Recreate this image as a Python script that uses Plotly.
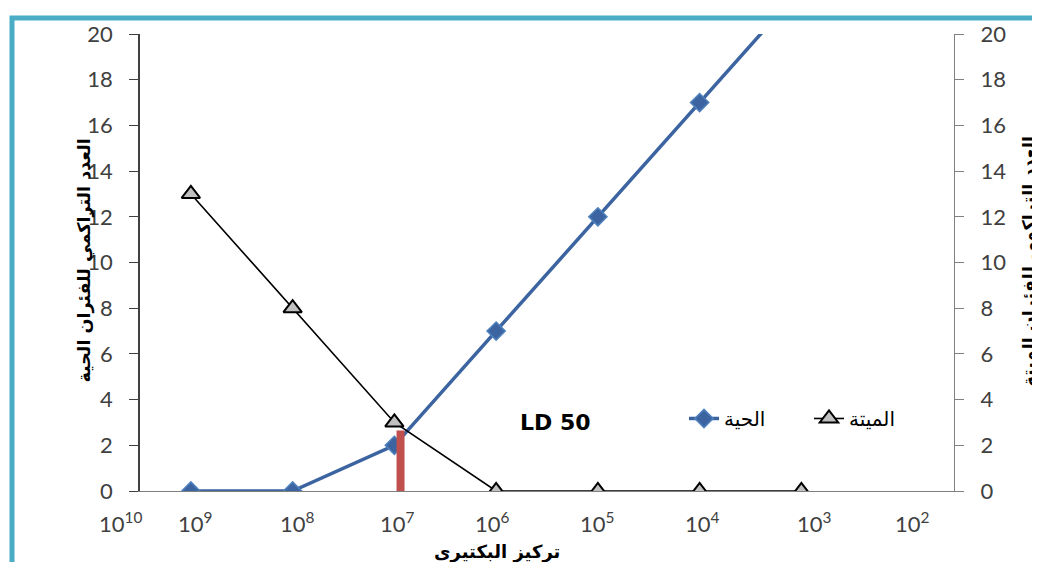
import plotly.graph_objects as go

# Data
concentrations = [1e9, 1e8, 1e7, 1e6, 1e5, 1e4, 1e3]
alive = [0, 0, 2, 7, 12, 17, 22]
dead = [13, 8, 3, 0, 0, 0, 0]
ld50_x = [8.7e6, 8.7e6]
ld50_y = [0, 2.65]
xtick_text = ["10<sup>10</sup>", "10<sup>9</sup>", "10<sup>8</sup>", "10<sup>7</sup>",
              "10<sup>6</sup>", "10<sup>5</sup>", "10<sup>4</sup>", "10<sup>3</sup>", "10<sup>2</sup>"]
xtick_pos = [9.69, 8.96, 7.95, 6.97, 6.04, 5.01, 3.97, 2.87, 1.91]  # log10 units

name_alive = "الحية"
name_dead = "الميتة"
title_left = "العدد التراكمي للفئران الحية"
title_right = "العدد التراكمي للفئران الميتة"
title_x = "تركيز البكتيرى"

AR_FONT = "DejaVu Sans"
NUM_FONT = "Lato, Open Sans, sans-serif"

X_MIN, X_MAX = 9.5, 1.5  # log10 range (reversed)

fig = go.Figure()
fig.add_trace(go.Scatter(
    x=concentrations, y=alive, name=name_alive, mode="lines+markers",
    line=dict(color="#3B64A0", width=3.5),
    marker=dict(symbol="diamond", size=14, color="#3B64A0", line=dict(color="#4F81BD", width=1.5)),
))
fig.add_trace(go.Scatter(
    x=concentrations, y=dead, name=name_dead, mode="lines+markers", yaxis="y2",
    line=dict(color="#000000", width=1.6),
    marker=dict(symbol="triangle-up", size=16, color="#C0C0C0", line=dict(color="#000000", width=2)),
))
fig.add_trace(go.Scatter(
    x=ld50_x, y=ld50_y, mode="lines", showlegend=False, hoverinfo="skip",
    line=dict(color="#C0504D", width=8),
))

# page offset (browser body margin)
OFF = 8
W, H = 1040, 562
# desired screen positions of plot area
SL, SR, ST, SB = 140, 954, 31, 491
L, T = SL - OFF, ST - OFF
R = W - (SR - OFF)
B = H - (SB - OFF)
pw, ph = SR - SL, SB - ST

def sx(px):
    return (px - SL) / pw

def sy(py):
    return (SB - py) / ph

annotations = []
for t, p in zip(xtick_text, xtick_pos):
    annotations.append(dict(x=(X_MIN - p) / (X_MIN - X_MAX), y=sy(523), xref="paper", yref="paper",
                            text=t, showarrow=False, xanchor="center", yanchor="middle",
                            font=dict(family=NUM_FONT, size=22, color="#404040")))
annotations += [
    dict(x=sx(85), y=sy(259), xref="paper", yref="paper", text="<b>" + title_left + "</b>",
         textangle=-90, showarrow=False, xanchor="center", yanchor="middle",
         font=dict(family=AR_FONT, size=17.5, color="#000")),
    dict(x=sx(1030), y=sy(260), xref="paper", yref="paper", text="<b>" + title_right + "</b>",
         textangle=-90, showarrow=False, xanchor="center", yanchor="middle",
         font=dict(family=AR_FONT, size=17.5, color="#000")),
    dict(x=sx(497), y=sy(552), xref="paper", yref="paper", text="<b>" + title_x + "</b>",
         showarrow=False, xanchor="center", yanchor="middle",
         font=dict(family=AR_FONT, size=18, color="#000")),
    dict(x=sx(555), y=sy(422), xref="paper", yref="paper", text="<b>LD 50</b>",
         showarrow=False, xanchor="center", yanchor="middle",
         font=dict(family="DejaVu Sans", size=22, color="#000")),
]

fig.update_layout(
    width=W, height=H,
    margin=dict(l=L, r=R, t=T, b=B),
    paper_bgcolor="white", plot_bgcolor="white",
    showlegend=True,
    legend=dict(orientation="h", x=sx(684), y=sy(418), xanchor="left", yanchor="middle",
                font=dict(family=AR_FONT, size=20, color="#000"),
                bgcolor="rgba(0,0,0,0)", entrywidth=80, traceorder="normal"),
    xaxis=dict(type="log", range=[X_MIN, X_MAX], showgrid=False, zeroline=False,
               showline=True, linecolor="#808080", linewidth=1, ticks="", showticklabels=False),
    yaxis=dict(range=[0, 20], dtick=2, showgrid=False, zeroline=False, showline=True,
               linecolor="#404040", linewidth=1.5, ticks="outside", ticklen=9, tickcolor="#404040",
               ticklabelstandoff=12,
               tickfont=dict(family=NUM_FONT, size=22, color="#404040")),
    yaxis2=dict(range=[0, 20], dtick=2, overlaying="y", side="right", showgrid=False, zeroline=False,
                showline=True, linecolor="#808080", linewidth=1.2, ticks="outside", ticklen=9,
                tickcolor="#808080", ticklabelstandoff=12,
                tickfont=dict(family=NUM_FONT, size=22, color="#404040")),
    annotations=annotations,
    shapes=[dict(type="rect", xref="paper", yref="paper",
                 x0=sx(12), x1=sx(1060), y0=sy(590), y1=sy(15),
                 line=dict(color="#4BACC6", width=5), fillcolor="rgba(0,0,0,0)", layer="below")],
)

fig.write_html("out.html")
